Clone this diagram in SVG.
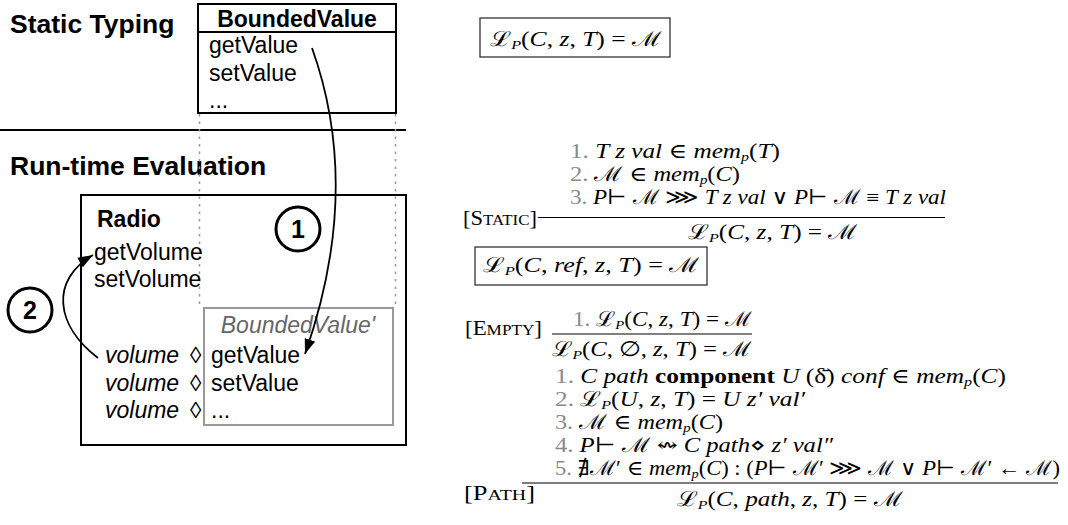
<svg xmlns="http://www.w3.org/2000/svg" width="1068" height="525" viewBox="0 0 1068 525">
<defs>
<marker id="ah" markerUnits="userSpaceOnUse" markerWidth="16" markerHeight="12" refX="15" refY="6" orient="auto"><path d="M0,0.5 L15,6 L0,11.5 z" fill="#000"/></marker>
<style>
.h{font-family:"Liberation Sans",Arial,Helvetica,sans-serif;font-weight:bold;font-size:26.5px}
.c{font-family:"Liberation Sans",Arial,Helvetica,sans-serif;font-weight:bold;font-size:25px}
.t{font-family:"Liberation Sans",Arial,Helvetica,sans-serif;font-size:23px}
.b{font-weight:bold}
.it{font-style:italic}
.m{font-family:"Liberation Serif","DejaVu Serif",serif;font-size:20.5px}
.i{font-style:italic}
.bf{font-weight:bold}
.n{fill:#8a8a8a}
.sb{font-size:13px}
.lab{font-family:"Liberation Serif","DejaVu Serif",serif;font-size:20px}
.sc{font-size:15px}
.box{fill:none;stroke:#000;stroke-width:2}
.gbox{fill:none;stroke:#999;stroke-width:2}
.dot{stroke:#999;stroke-width:1.5;stroke-dasharray:2.5 5}
.rule{stroke:#000;stroke-width:1.2}
.mbox{fill:none;stroke:#333;stroke-width:1.3}
.conn{fill:none;stroke:#000;stroke-width:1.8;marker-end:url(#ah)}
.circ{fill:#fff;stroke:#000;stroke-width:3}
</style>
</defs>
<rect width="1068" height="525" fill="#fff"/>

<g id="titles">
<text class="h" x="10" y="33">Static Typing</text>
<text class="h" x="10" y="175">Run-time Evaluation</text>
<line x1="0" y1="130" x2="406" y2="130" stroke="#000" stroke-width="2"/>
</g>

<g id="guides">
<line class="dot" x1="199.5" y1="114" x2="199.5" y2="307"/>
<line class="dot" x1="395.5" y1="114" x2="395.5" y2="307"/>
</g>

<g id="boundedvalue">
<rect class="box" x="198" y="4" width="198" height="109" fill="#fff"/>
<line x1="198" y1="32" x2="396" y2="32" stroke="#000" stroke-width="2"/>
<text class="t b" x="297" y="27" text-anchor="middle">BoundedValue</text>
<text class="t" x="209" y="53">getValue</text>
<text class="t" x="209" y="81">setValue</text>
<text class="t" x="209" y="108">...</text>
</g>

<g id="radio">
<rect class="box" x="81" y="195" width="325" height="250"/>
<text class="t b" x="97" y="227">Radio</text>
<text class="t" x="94" y="260">getVolume</text>
<text class="t" x="94" y="287">setVolume</text>
<text class="t it" x="105" y="363">volume</text>
<text class="t" x="190" y="363">◊</text>
<text class="t it" x="105" y="391">volume</text>
<text class="t" x="190" y="391">◊</text>
<text class="t it" x="105" y="418">volume</text>
<text class="t" x="190" y="418">◊</text>
</g>

<g id="boundedvalue-prime">
<rect class="gbox" x="204" y="308" width="189" height="117"/>
<text class="t it" x="298" y="333" text-anchor="middle" fill="#666">BoundedValue'</text>
<text class="t" x="211" y="363">getValue</text>
<text class="t" x="211" y="391">setValue</text>
<text class="t" x="211" y="418">...</text>
</g>

<g id="connectors">
<path class="conn" d="M312,48 C345,140 345,240 305,354"/>
<path class="conn" d="M98,358 C55,325 50,280 93,255"/>
</g>

<g id="step1">
<circle class="circ" cx="298" cy="229" r="22"/>
<text class="c" x="298" y="238" text-anchor="middle">1</text>
</g>
<g id="step2">
<circle class="circ" cx="30" cy="310" r="22"/>
<text class="c" x="30" y="319" text-anchor="middle">2</text>
</g>

<g id="box-lookup">
<rect class="mbox" x="480" y="18" width="190" height="39"/>
<text class="m" x="490" y="46" textLength="172" lengthAdjust="spacingAndGlyphs">ℒ<tspan class="i sb" dy="3">P</tspan><tspan dy="-3">(</tspan><tspan class="i">C</tspan>, <tspan class="i">z</tspan>, <tspan class="i">T</tspan>) = ℳ</text>
</g>

<g id="rule-static">
<text class="lab" x="463" y="225" textLength="74" lengthAdjust="spacingAndGlyphs">[S<tspan class="sc">TATIC</tspan>]</text>
<text class="m" x="570" y="158" textLength="210" lengthAdjust="spacingAndGlyphs"><tspan class="n">1.</tspan> <tspan class="i">T z val</tspan> ∈ <tspan class="i">mem</tspan><tspan class="i sb" dy="3">p</tspan><tspan dy="-3">(</tspan><tspan class="i">T</tspan>)</text>
<text class="m" x="570" y="181" textLength="170" lengthAdjust="spacingAndGlyphs"><tspan class="n">2.</tspan> ℳ ∈ <tspan class="i">mem</tspan><tspan class="i sb" dy="3">p</tspan><tspan dy="-3">(</tspan><tspan class="i">C</tspan>)</text>
<text class="m" x="570" y="204" textLength="376" lengthAdjust="spacingAndGlyphs"><tspan class="n">3.</tspan> <tspan class="i">P</tspan>⊢ ℳ ⋙ <tspan class="i">T z val</tspan> ∨ <tspan class="i">P</tspan>⊢ ℳ ≡ <tspan class="i">T z val</tspan></text>
<line class="rule" x1="538" y1="217.5" x2="945" y2="217.5"/>
<text class="m" x="688" y="239" textLength="170" lengthAdjust="spacingAndGlyphs">ℒ<tspan class="i sb" dy="3">P</tspan><tspan dy="-3">(</tspan><tspan class="i">C</tspan>, <tspan class="i">z</tspan>, <tspan class="i">T</tspan>) = ℳ</text>
</g>

<g id="box-lookup-ref">
<rect class="mbox" x="475" y="247" width="232" height="38"/>
<text class="m" x="483" y="272" textLength="217" lengthAdjust="spacingAndGlyphs">ℒ<tspan class="i sb" dy="3">P</tspan><tspan dy="-3">(</tspan><tspan class="i">C</tspan>, <tspan class="i">ref</tspan>, <tspan class="i">z</tspan>, <tspan class="i">T</tspan>) = ℳ</text>
</g>

<g id="rule-empty">
<text class="lab" x="465" y="335" textLength="77" lengthAdjust="spacingAndGlyphs">[E<tspan class="sc">MPTY</tspan>]</text>
<text class="m" x="573" y="326" textLength="179" lengthAdjust="spacingAndGlyphs"><tspan class="n">1.</tspan> ℒ<tspan class="i sb" dy="3">P</tspan><tspan dy="-3">(</tspan><tspan class="i">C</tspan>, <tspan class="i">z</tspan>, <tspan class="i">T</tspan>) = ℳ</text>
<line class="rule" x1="552" y1="334" x2="752" y2="334"/>
<text class="m" x="552" y="356" textLength="200" lengthAdjust="spacingAndGlyphs">ℒ<tspan class="i sb" dy="3">P</tspan><tspan dy="-3">(</tspan><tspan class="i">C</tspan>, ∅, <tspan class="i">z</tspan>, <tspan class="i">T</tspan>) = ℳ</text>
</g>

<g id="rule-path">
<text class="lab" x="464" y="500" textLength="71" lengthAdjust="spacingAndGlyphs">[P<tspan class="sc">ATH</tspan>]</text>
<text class="m" x="555" y="383" textLength="451" lengthAdjust="spacingAndGlyphs"><tspan class="n">1.</tspan> <tspan class="i">C path</tspan> <tspan class="bf">component</tspan> <tspan class="i">U</tspan> (δ̄) <tspan class="i">conf</tspan> ∈ <tspan class="i">mem</tspan><tspan class="i sb" dy="3">p</tspan><tspan dy="-3">(</tspan><tspan class="i">C</tspan>)</text>
<text class="m" x="555" y="406" textLength="250" lengthAdjust="spacingAndGlyphs"><tspan class="n">2.</tspan> ℒ<tspan class="i sb" dy="3">P</tspan><tspan dy="-3">(</tspan><tspan class="i">U</tspan>, <tspan class="i">z</tspan>, <tspan class="i">T</tspan>) = <tspan class="i">U z′ val′</tspan></text>
<text class="m" x="555" y="429" textLength="168" lengthAdjust="spacingAndGlyphs"><tspan class="n">3.</tspan> ℳ ∈ <tspan class="i">mem</tspan><tspan class="i sb" dy="3">p</tspan><tspan dy="-3">(</tspan><tspan class="i">C</tspan>)</text>
<text class="m" x="555" y="452" textLength="278" lengthAdjust="spacingAndGlyphs"><tspan class="n">4.</tspan> <tspan class="i">P</tspan>⊢ ℳ ↭ <tspan class="i">C path</tspan>⋄ <tspan class="i">z′ val″</tspan></text>
<text class="m" x="555" y="475" textLength="505" lengthAdjust="spacingAndGlyphs"><tspan class="n">5.</tspan> ∄ℳ′ ∈ <tspan class="i">mem</tspan><tspan class="i sb" dy="3">p</tspan><tspan dy="-3">(</tspan><tspan class="i">C</tspan>) : (<tspan class="i">P</tspan>⊢ ℳ′ ⋙ ℳ ∨ <tspan class="i">P</tspan>⊢ ℳ′ ← ℳ)</text>
<line class="rule" x1="522" y1="483" x2="1058" y2="483"/>
<text class="m" x="677" y="506" textLength="226" lengthAdjust="spacingAndGlyphs">ℒ<tspan class="i sb" dy="3">P</tspan><tspan dy="-3">(</tspan><tspan class="i">C</tspan>, <tspan class="i">path</tspan>, <tspan class="i">z</tspan>, <tspan class="i">T</tspan>) = ℳ</text>
</g>
</svg>
